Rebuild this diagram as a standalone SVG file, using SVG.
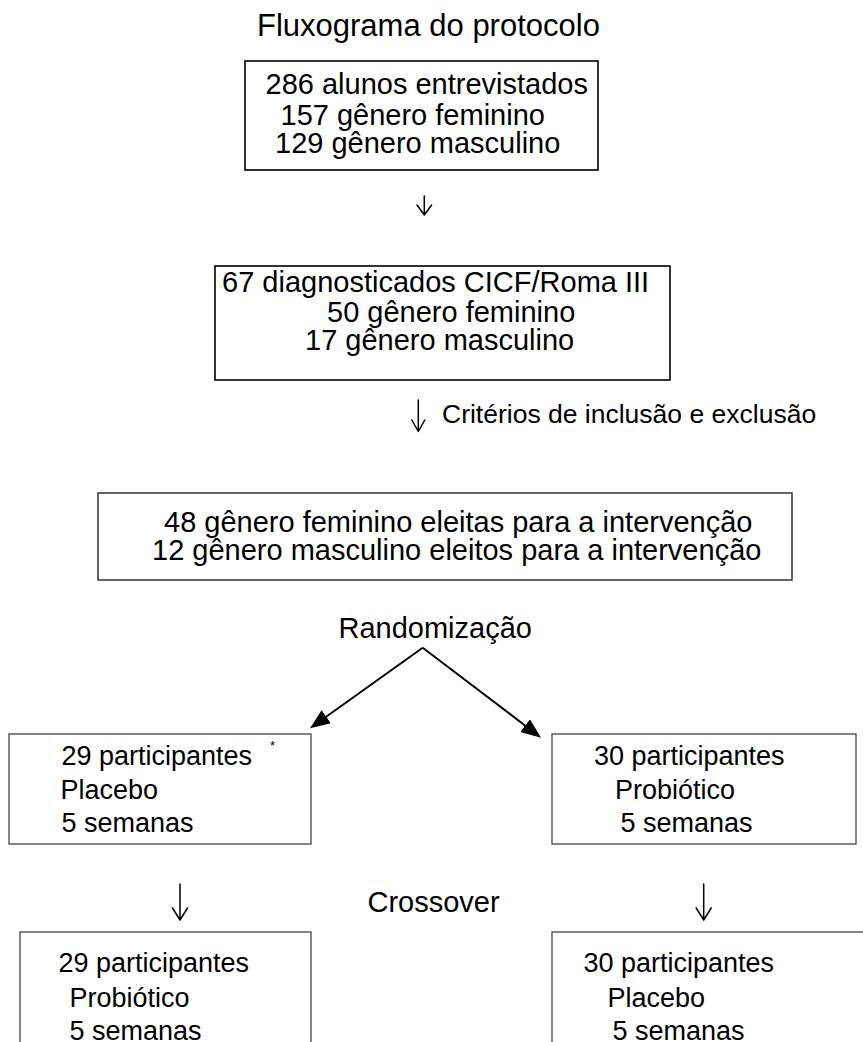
<svg xmlns="http://www.w3.org/2000/svg" width="863" height="1042" viewBox="0 0 863 1042">
  <style>
    text { font-family: "Liberation Sans", Arial, sans-serif; fill: #000; }
    .t29 { font-size: 29px; }
    .t27 { font-size: 27px; }
    .box1 { fill: #fff; stroke: #000; stroke-width: 1.6; }
    .box3 { fill: #fff; stroke: #333; stroke-width: 1.5; }
    .boxL { fill: #fff; stroke: #444; stroke-width: 1.3; }
    .open { fill: none; stroke: #000; stroke-width: 1.5; stroke-linecap: round; stroke-linejoin: round; }
    .diag { fill: none; stroke: #000; stroke-width: 2; }
  </style>
  <defs>
    <marker id="tri" viewBox="0 0 20 16" refX="4" refY="8" markerWidth="20" markerHeight="16" markerUnits="userSpaceOnUse" orient="auto">
      <path d="M0,0 L20,8 L0,16 z" fill="#000"/>
    </marker>
  </defs>
  <rect width="863" height="1042" fill="#fff"/>

  <text x="257" y="36" style="font-size:31px">Fluxograma do protocolo</text>

  <g id="n-entrevistados">
    <rect class="box1" x="245" y="61" width="353" height="109"/>
    <text class="t29" x="265.5" y="94">286 alunos entrevistados</text>
    <text class="t29" x="280.5" y="125">157 gênero feminino</text>
    <text class="t29" x="275" y="153">129 gênero masculino</text>
  </g>

  <g id="n-diagnosticados">
    <rect class="box1" x="215" y="266" width="455" height="114"/>
    <text class="t29" x="222" y="291.5">67 diagnosticados CICF/Roma III</text>
    <text class="t29" x="327" y="321.5">50 gênero feminino</text>
    <text class="t29" x="305" y="350">17 gênero masculino</text>
  </g>

  <g id="n-eleitos">
    <rect class="box3" x="98" y="493" width="694" height="87"/>
    <text class="t29" x="164" y="531.5">48 gênero feminino eleitas para a intervenção</text>
    <text class="t29" x="152" y="560">12 gênero masculino eleitos para a intervenção</text>
  </g>

  <g id="n-randomizacao">
    <text class="t29" x="338.5" y="638">Randomização</text>
  </g>

  <g id="n-placebo1">
    <rect class="boxL" x="9" y="734" width="302" height="110"/>
    <text class="t27" x="61.5" y="765">29 participantes</text>
    <text x="270" y="750" style="font-size:13px">*</text>
    <text class="t27" x="60.5" y="799">Placebo</text>
    <text class="t27" x="61.5" y="831.5">5 semanas</text>
  </g>

  <g id="n-probiotico1">
    <rect class="boxL" x="552" y="734" width="304" height="110"/>
    <text class="t27" x="594" y="765">30 participantes</text>
    <text class="t27" x="615" y="799">Probiótico</text>
    <text class="t27" x="620.5" y="831.5">5 semanas</text>
  </g>

  <g id="n-crossover">
    <text class="t29" x="367.5" y="911.5">Crossover</text>
  </g>

  <g id="n-probiotico2">
    <rect class="boxL" x="20" y="932" width="291" height="130"/>
    <text class="t27" x="58.5" y="971.5">29 participantes</text>
    <text class="t27" x="69.5" y="1006.5">Probiótico</text>
    <text class="t27" x="69.5" y="1040">5 semanas</text>
  </g>

  <g id="n-placebo2">
    <rect class="boxL" x="552" y="932" width="330" height="130"/>
    <text class="t27" x="583.5" y="971.5">30 participantes</text>
    <text class="t27" x="607.5" y="1006.5">Placebo</text>
    <text class="t27" x="612.5" y="1040">5 semanas</text>
  </g>

  <g id="connectors">
    <path class="open" d="M424.3,196 L424.3,215 M417,205 L424.3,215 L431.6,205"/>
    <path class="open" d="M418.3,400 L418.3,431.5 M411.8,420 L418.3,431.5 L424.8,420"/>
    <text x="442" y="422.5" style="font-size:26.5px">Critérios de inclusão e exclusão</text>
    <line class="diag" x1="422.7" y1="647.7" x2="323" y2="719" marker-end="url(#tri)"/>
    <line class="diag" x1="422.7" y1="647.7" x2="528.3" y2="728" marker-end="url(#tri)"/>
    <path class="open" d="M180,884 L180,920 M172.5,908 L180,920 L187.5,908"/>
    <path class="open" d="M703.7,884 L703.7,920 M696.2,908 L703.7,920 L711.2,908"/>
  </g>
</svg>
